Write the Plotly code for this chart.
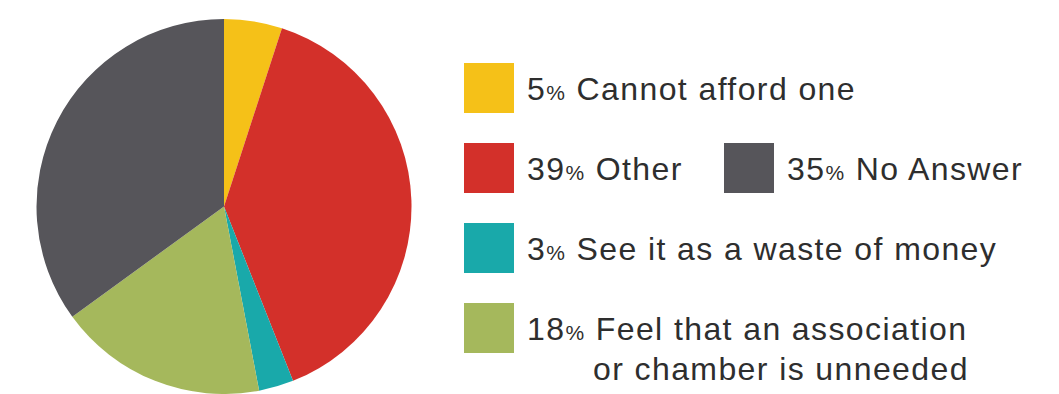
import plotly.graph_objects as go

# Survey responses, clockwise from 12 o'clock
categories = ["Cannot afford one", "Other", "See it as a waste of money",
              "Feel that an association<br>or chamber is unneeded", "No Answer"]
shares = [5, 39, 3, 18, 35]
colors = ["#F5C118", "#D3302A", "#19A9AA", "#A5B85C", "#56555A"]

W, H = 1059, 394


def px(x):
    return x / W


def py(y):
    return 1 - y / H


fig = go.Figure(go.Pie(
    labels=categories,
    values=shares,
    sort=False,
    direction="clockwise",
    rotation=0,
    marker=dict(colors=colors, line=dict(width=0)),
    textinfo="none",
    hoverinfo="label+percent",
    domain=dict(x=[px(35), px(413)], y=[py(394), py(19)]),
))

# Legend layout: (square left, square top) for each category, in pixels
legend_pos = [(464, 63), (464, 143), (464, 223), (464, 303), (724, 143)]
SQ = 50
FONT = "Liberation Sans, Arial, Helvetica, sans-serif"
TXT = "#2e2e2e"
SPACING = "letter-spacing:1.4px"

for cat, val, col, (lx, ty) in zip(categories, shares, colors, legend_pos):
    fig.add_shape(type="rect", xref="paper", yref="paper",
                  x0=px(lx), x1=px(lx + SQ), y0=py(ty + SQ), y1=py(ty),
                  fillcolor=col, line=dict(width=0))
    lines = cat.split("<br>")
    first = (f"<span style='{SPACING}'>{val}<span style='font-size:21px'>%</span> "
             f"{lines[0]}</span>")
    fig.add_annotation(xref="paper", yref="paper", x=px(lx + 61), y=py(ty + 26),
                       xanchor="left", yanchor="middle", showarrow=False,
                       text=first, font=dict(family=FONT, size=32, color=TXT))
    for k, extra in enumerate(lines[1:], start=1):
        fig.add_annotation(xref="paper", yref="paper", x=px(lx + 127),
                           y=py(ty + 26 + 40 * k),
                           xanchor="left", yanchor="middle", showarrow=False,
                           text=f"<span style='{SPACING}'>{extra}</span>",
                           font=dict(family=FONT, size=32, color=TXT))

fig.update_layout(
    width=W, height=H,
    margin=dict(l=0, r=0, t=0, b=0),
    paper_bgcolor="white",
    plot_bgcolor="white",
    showlegend=False,
)

fig.write_html("out.html")
